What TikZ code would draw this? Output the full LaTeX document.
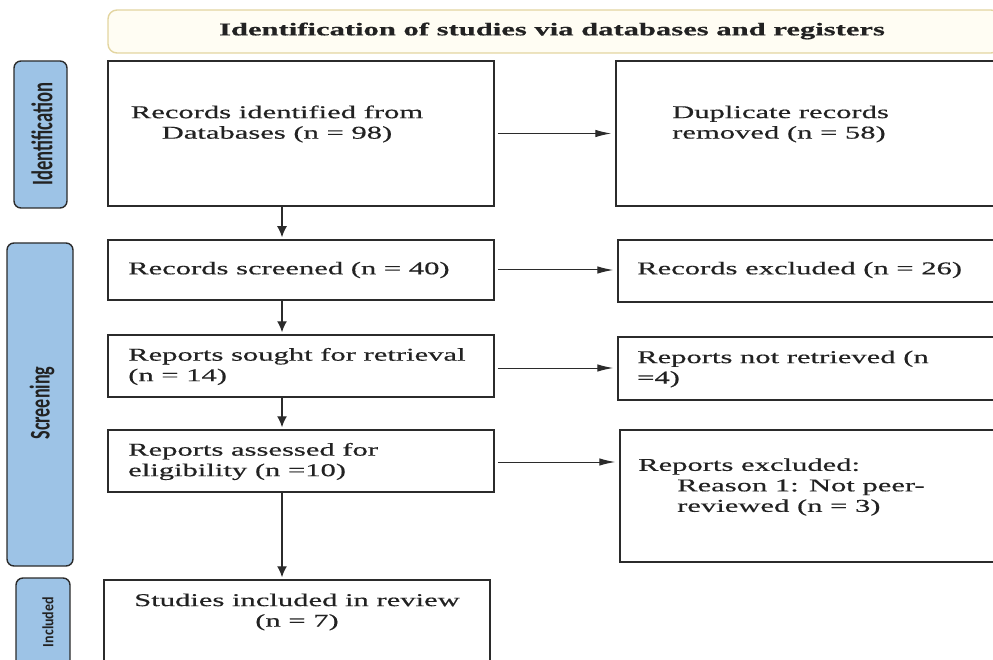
\documentclass[tikz,border=0pt]{standalone}
\usepackage{fontspec}
\usetikzlibrary{arrows.meta,calc}
\setmainfont[FakeStretch=1.7,FakeBold=0.5]{Liberation Serif}
\newfontfamily\labfont{Carlito}
\definecolor{boxline}{HTML}{2B2B2B}
\definecolor{labfill}{HTML}{9DC3E6}
\definecolor{hdrfill}{HTML}{FFFDF3}
\definecolor{hdrline}{HTML}{E3D5A0}
\definecolor{txt}{HTML}{222222}
\begin{document}
\begin{tikzpicture}[x=1pt,y=-1pt,
  flowbox/.style={draw=boxline,line width=1.5pt,fill=white},
  sidelab/.style={draw=boxline,line width=1.4pt,fill=labfill,rounded corners=7pt},
  hdr/.style={draw=hdrline,line width=1.4pt,fill=hdrfill,rounded corners=9pt},
  txtl/.style={anchor=west,align=left,inner sep=0pt,text=txt,font=\fontsize{18}{20.5}\selectfont},
  txtc/.style={align=center,inner sep=0pt,text=txt,font=\fontsize{18}{20.5}\selectfont},
  varrow/.style={draw=boxline,line width=1.4pt,-{Latex[length=11pt,width=10pt]},shorten >=2pt},
  harrow/.style={draw=boxline,line width=1pt,-{Latex[length=16pt,width=7.5pt]},shorten <=3pt,shorten >=4pt}]
\useasboundingbox (0,0) rectangle (993,660);
\begin{scope}
\clip (0,0) rectangle (993,660);
% header
\draw[hdr] (108,10) rectangle (1000,53);
\node[txtc,font=\fontsize{18}{20.5}\selectfont\bfseries] (hd) at (552,31) {Identification of studies via databases and registers};
% side labels
\draw[sidelab] (14,61) rectangle (67,208);
\node[rotate=90,inner sep=0pt,text=txt] (li) at (42,134) {\resizebox{103pt}{21pt}{\labfont\bfseries Identification}};
\draw[sidelab] (7,243) rectangle (73,566);
\node[rotate=90,inner sep=0pt,text=txt] (ls) at (42,403) {\resizebox{73pt}{20pt}{\labfont\bfseries Screening}};
\draw[sidelab] (16,578) rectangle (70,720);
\node[rotate=90,inner sep=0pt,text=txt] (lc) at (48,622) {\resizebox{50pt}{11pt}{\labfont\bfseries Included}};
% left column boxes
\node[flowbox,minimum width=386pt,minimum height=145pt,inner sep=0pt] (b1) at (301,133.5) {};
\node[txtc] (t1) at (277,124) {Records identified from\\Databases (n = 98)};
\node[flowbox,minimum width=386pt,minimum height=60pt,inner sep=0pt] (b2) at (301,270) {};
\node[txtl] (t2) at (128,270) {Records screened (n = 40)};
\node[flowbox,minimum width=386pt,minimum height=62pt,inner sep=0pt] (b3) at (301,366) {};
\node[txtl] (t3) at (128,366.5) {Reports sought for retrieval\\(n = 14)};
\node[flowbox,minimum width=386pt,minimum height=62pt,inner sep=0pt] (b4) at (301,461) {};
\node[txtl] (t4) at (128,461.5) {Reports assessed for\\eligibility (n =10)};
\node[flowbox,minimum width=386pt,minimum height=140pt,inner sep=0pt] (b5) at (297,650) {};
\node[txtc] (t5) at (297,612) {Studies included in review\\(n = 7)};
% right column boxes
\node[flowbox,minimum width=390pt,minimum height=145pt,inner sep=0pt] (d1) at (811,133.5) {};
\node[txtl] (td) at (672,124) {Duplicate records\\removed (n = 58)};
\node[flowbox,minimum width=390pt,minimum height=62pt,inner sep=0pt] (e2) at (813,271) {};
\node[txtl] (te2) at (637,270) {Records excluded (n = 26)};
\node[flowbox,minimum width=390pt,minimum height=63pt,inner sep=0pt] (e3) at (813,368.5) {};
\node[txtl] (te3) at (637,369) {Reports not retrieved (n\\=4)};
\node[flowbox,minimum width=390pt,minimum height=132pt,inner sep=0pt] (e4) at (815,496) {};
\node[txtl] (te4) at (638,487) {Reports excluded:\\\hspace*{39pt}Reason 1: Not peer-\\\hspace*{39pt}reviewed (n = 3)};
% connectors
\coordinate (ax) at (282,0);
\draw[varrow] (b1.south -| ax) -- (b2.north -| ax);
\draw[varrow] (b2.south -| ax) -- (b3.north -| ax);
\draw[varrow] (b3.south -| ax) -- (b4.north -| ax);
\draw[varrow] (b4.south -| ax) -- (b5.north -| ax);
\draw[harrow] (b1.east) -- (d1.west |- b1.east);
\draw[harrow] (b2.east) -- (e2.west |- b2.east);
\draw[harrow] ($(b3.east)+(0,2)$) -- ($(e3.west |- b3.east)+(0,2)$);
\draw[harrow] ($(b4.east)+(0,1)$) -- ($(e4.west |- b4.east)+(0,1)$);
\end{scope}
\end{tikzpicture}
\end{document}
